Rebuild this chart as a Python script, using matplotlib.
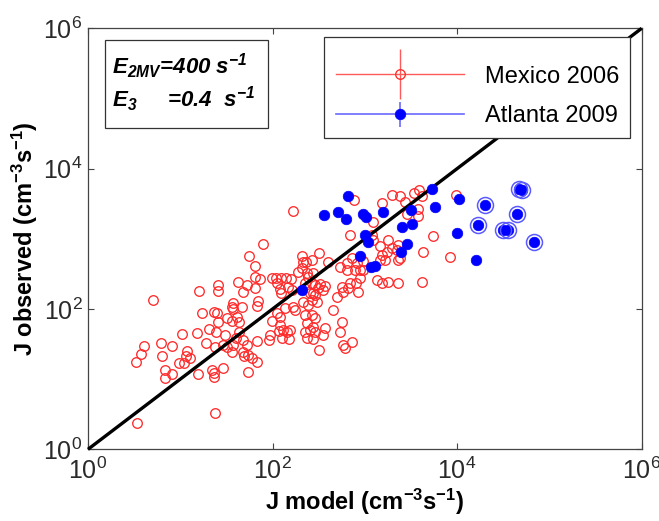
import numpy as np
import matplotlib
matplotlib.use('Agg')
import matplotlib.pyplot as plt
from matplotlib.lines import Line2D
from matplotlib.patches import Rectangle
from matplotlib.legend_handler import HandlerTuple

plt.rcParams['font.family'] = ['Liberation Sans', 'DejaVu Sans']
plt.rcParams['mathtext.fontset'] = 'custom'
plt.rcParams['mathtext.rm'] = 'Liberation Sans'
plt.rcParams['mathtext.it'] = 'Liberation Sans:italic'
plt.rcParams['mathtext.bf'] = 'Liberation Sans:bold'
try:
    plt.rcParams['mathtext.bfit'] = 'Liberation Sans:italic:bold'
except KeyError:
    pass

# ---------------- data ----------------
mexico_jmodel = [3.42, 3.29, 3.76, 4.07, 5.1, 6.14, 6.39, 6.78, 6.78, 8.14,
                 8.08, 10.4, 9.77, 11.1, 11.7, 11.5, 12.8, 15.1, 15.7, 16.1,
                 17.1, 18.9, 20.6, 21.9, 23.2, 23.4, 23.2, 24.8, 24.4, 23.8,
                 23.8, 25.9, 25.9, 25.9, 29.3, 29.3, 31.9, 30.5, 31.9, 36.1,
                 37.0, 36.1, 37.6, 37.6, 36.1, 41.5, 43.7, 42.6, 46.3, 43.7,
                 40.2, 47.5, 47.5, 49.5, 52.5, 47.5, 52.5, 54.7, 55.6, 59.5,
                 67.4, 54.7, 64.6, 64.6, 73.2, 64.6, 68.4, 70.2, 68.4, 79.4,
                 92.3, 94.0, 98.0, 109, 124, 140, 157, 111, 121, 123,
                 148, 161, 98, 113, 121, 137, 168, 175, 121, 116,
                 131, 145, 155, 126, 152, 168, 190, 207, 216, 231,
                 207, 235, 277, 244, 266, 255, 289, 266, 301, 216,
                 244, 225, 266, 289, 235, 277, 255, 225, 289, 235,
                 277, 319, 321, 266, 355, 371, 450, 562, 539, 585,
                 611, 721, 637, 784, 888, 692, 764, 225, 289, 327,
                 371, 314, 355, 277, 497, 585, 663, 692, 562, 851,
                 804, 888, 1190, 1240, 1800, 1960, 1730, 1530, 1460, 1660,
                 2220, 2410, 721, 818, 964, 637, 539, 403, 1460, 2310,
                 1350, 1530, 1800, 2310, 4140, 2310, 964, 1960, 2410, 3420,
                 3870, 4180, 1540, 2730, 9750, 3800, 3800, 2890, 1240, 5530,
                 4310, 8400]
mexico_jobs = [2.37, 17.4, 22.6, 29.9, 134, 32.4, 21.4, 13.5, 10.3, 29.9,
               11.7, 44, 16.8, 17.1, 25.4, 21.6, 20.0, 45.9, 11.8, 182,
               86.7, 33.0, 51.8, 13.5, 12.4, 10.8, 91.4, 88.5, 47.4, 29.0,
               3.32, 219, 180, 65.8, 30.6, 14.5, 73.6, 42.6, 29.0, 67.3,
               120, 108, 98.9, 30.6, 24.6, 77.6, 65.8, 240, 108, 47.4,
               38.2, 36.1, 24.6, 21.4, 219, 176, 30.6, 22.1, 578, 19.8,
               17.7, 12.5, 413, 288, 265, 197, 35.3, 131, 110, 857,
               36.1, 42.6, 273, 273, 273, 273, 265, 232, 191, 167,
               208, 186, 68, 86.7, 77.6, 102, 108, 96.6, 59.1, 48.5,
               50.1, 47.4, 50.1, 38.2, 36.9, 2490, 340, 569, 471, 471,
               380, 322, 322, 288, 232, 167, 158, 134, 127, 127,
               114, 82, 82, 73.6, 62.5, 55.8, 50.1, 47.4, 47.4, 38.2,
               36.9, 26, 621, 499, 42.6, 53, 96.6, 65.8, 47.4, 30.6,
               27.5, 34.1, 456, 359, 359, 1130, 3570, 232, 219, 227,
               212, 197, 186, 167, 150, 176, 197, 232, 208, 176,
               232, 273, 1130, 961, 961, 731, 655, 587, 499, 499,
               692, 527, 527, 447, 359, 359, 400, 471, 789, 815,
               259, 232, 245, 232, 245, 499, 487, 4200, 4070, 4490,
               4950, 4070, 3200, 3310, 4200, 2650, 2110, 2280, 1750, 1100,
               655, 550]

atlanta_jmodel = [361, 517, 626, 663, 957, 1030, 1590, 1010, 1070, 888,
                  1170, 1290, 2500, 3210, 3130, 2890, 2470, 5360, 5770, 10500,
                  9930, 16100, 206,
                  20100, 16900, 31800, 36000, 44400, 47300, 50700, 67800]
atlanta_jobs = [2150, 2410, 1910, 4070, 2220, 2040, 2430, 1150, 915, 569,
                396, 416, 1450, 1620, 2550, 848, 659, 5150, 2840, 3650,
                1210, 499, 186,
                3000, 1560, 1330, 1330, 2230, 5200, 4950, 900]
# 1 = point highlighted with an extra ring
atlanta_ringed = [0, 0, 0, 0, 0, 0, 0, 0, 0, 0,
                  0, 0, 0, 0, 0, 0, 0, 0, 0, 0,
                  0, 0, 0,
                  1, 1, 1, 1, 1, 1, 1, 1]

one_to_one = [1, 1e6]
tick_values = [1, 1e2, 1e4, 1e6]
tick_labels = [r'$10^{0}$', r'$10^{2}$', r'$10^{4}$', r'$10^{6}$']
series_labels = ['Mexico 2006', 'Atlanta 2009']

RED = '#ff2a2a'
BLUE = '#0000ff'
RING = '#5a5aff'

# ---------------- figure ----------------
fig = plt.figure(figsize=(6.59, 5.21), dpi=100)
ax = fig.add_axes([88 / 659, 1 - 449.3 / 521, (641.7 - 88) / 659, (449.3 - 28.3) / 521])
ax.set_xscale('log')
ax.set_yscale('log')
ax.set_xlim(1, 1e6)
ax.set_ylim(1, 1e6)

ax.plot(mexico_jmodel, mexico_jobs, linestyle='none', marker='o', ms=6.9,
        mfc='none', mec=RED, mew=0.95, zorder=2)
ax.plot(one_to_one, one_to_one, color='black', lw=2.4, zorder=3,
        clip_on=False, solid_capstyle='butt')
ax.plot(atlanta_jmodel, atlanta_jobs, linestyle='none', marker='o', ms=7.6,
        mfc=BLUE, mec=BLUE, mew=0.5, zorder=4)
ring_x = [x for x, r in zip(atlanta_jmodel, atlanta_ringed) if r]
ring_y = [y for y, r in zip(atlanta_jobs, atlanta_ringed) if r]
ax.plot(ring_x, ring_y, linestyle='none', marker='o', ms=11.5,
        mfc='none', mec=RING, mew=1.1, zorder=4)

ax.set_xticks(tick_values)
ax.set_xticklabels(tick_labels)
ax.set_yticks(tick_values)
ax.set_yticklabels(tick_labels)
ax.minorticks_off()
ax.tick_params(which='both', direction='in', top=True, right=True,
               length=4, width=0.8, color='#444444', labelsize=18,
               labelcolor='#2a2a2a')
ax.tick_params(axis='x', pad=6)
ax.tick_params(axis='y', pad=4)
for s in ax.spines.values():
    s.set_color('#444444')
    s.set_linewidth(0.9)

ax.set_xlabel(r'J model (cm$^{\mathbf{-3}}$s$^{\mathbf{-1}}$)',
              fontsize=17, fontweight='bold', labelpad=2)
ax.set_ylabel(r'J observed (cm$^{\mathbf{-3}}$s$^{\mathbf{-1}}$)',
              fontsize=17, fontweight='bold', labelpad=2)

# parameter box
bx0 = (105 - 88) / 553.7
by0 = (449.3 - 128) / 421
ax.add_patch(Rectangle((bx0, by0), (268 - 105) / 553.7, (128 - 40) / 421,
                       transform=ax.transAxes, fill=True, facecolor='white',
                       edgecolor='#333333', lw=0.9, zorder=5))
tx = (112 - 88) / 553.7
ax.text(tx, (449.3 - 74) / 421,
        r'$\mathbfit{E}_{\mathbfit{2MV}}$=400 s$^{\mathbfit{-1}}$',
        transform=ax.transAxes, fontsize=16, fontweight='bold', fontstyle='italic',
        va='baseline', ha='left', zorder=6)
ax.text(tx, (449.3 - 107) / 421,
        r'$\mathbfit{E}_{\mathbfit{3}}$     =0.4  s$^{\mathbfit{-1}}$',
        transform=ax.transAxes, fontsize=16, fontweight='bold', fontstyle='italic',
        va='baseline', ha='left', zorder=6)

# legend frame (drawn separately to match the reference's padding)
ax.add_patch(Rectangle(((324 - 88) / 553.7, (449.3 - 138) / 421),
                       (630 - 324) / 553.7, (138 - 37) / 421,
                       transform=ax.transAxes, facecolor='white',
                       edgecolor='#333333', lw=0.9, zorder=5))

# legend entries
h_mex = (Line2D([], [], color='#ff5a5a', lw=1.0),
         Line2D([], [], color='#ff5a5a', lw=0, marker='|', ms=36, mew=1.0),
         Line2D([], [], color=RED, lw=0, marker='o', ms=6.9, mfc='none', mew=0.95))
h_atl = (Line2D([], [], color='#6a6aff', lw=1.2),
         Line2D([], [], color='#6a6aff', lw=0, marker='|', ms=18, mew=1.2),
         Line2D([], [], color=BLUE, lw=0, marker='o', ms=7.6, mfc=BLUE, mew=0.5))
leg = ax.legend([h_mex, h_atl], series_labels,
                handler_map={tuple: HandlerTuple(ndivide=1, pad=0)},
                loc='upper right', bbox_to_anchor=((630 - 88) / 553.7, (449.3 - 55) / 421),
                borderaxespad=0, fontsize=17, handlelength=5.4, handletextpad=0.9,
                borderpad=0.45, labelspacing=0.75, numpoints=1,
                frameon=False)
leg.set_zorder(6)

fig.savefig('out.png', dpi=100)
